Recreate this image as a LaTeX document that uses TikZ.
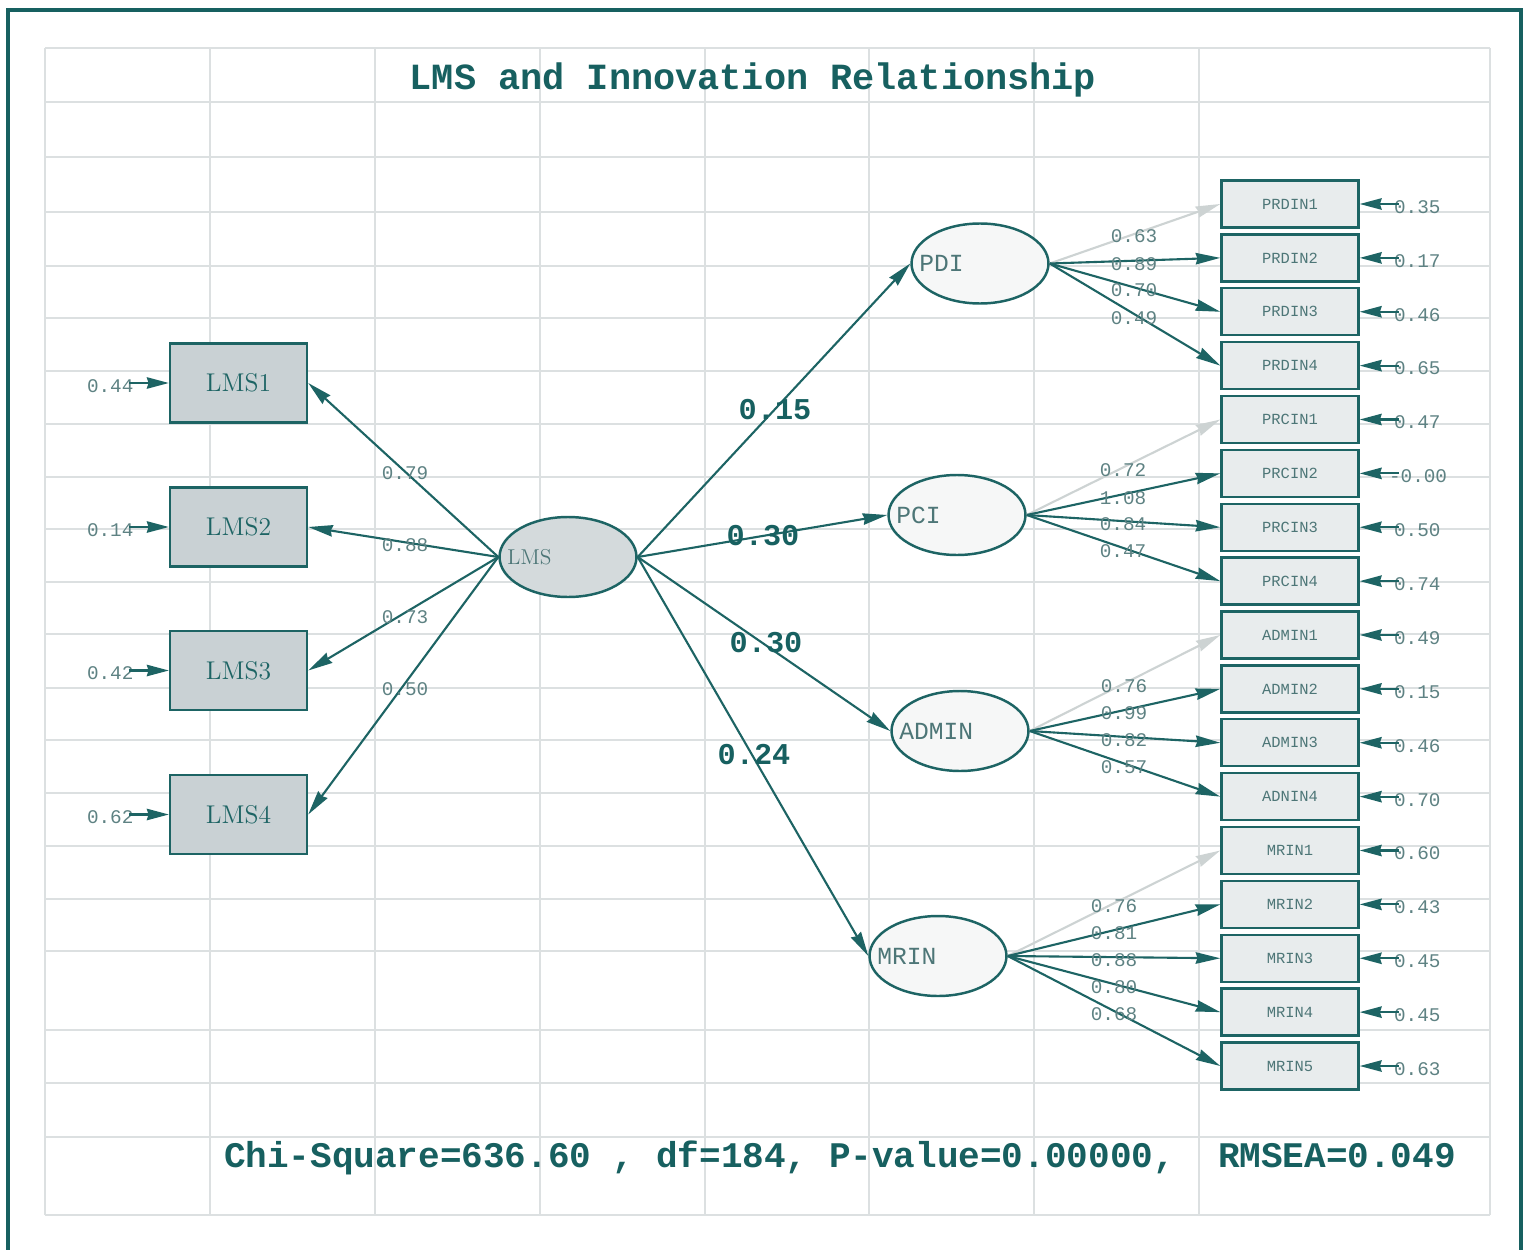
\documentclass[tikz,border=0pt]{standalone}
\usepackage{fontspec}
\newfontfamily\cour{Liberation Mono}
\usetikzlibrary{arrows.meta,shapes.geometric,calc}

\definecolor{tealf}{HTML}{176060}
\definecolor{tealb}{HTML}{1D6464}
\definecolor{gridc}{HTML}{DCE0E1}
\definecolor{boxf}{HTML}{E8ECED}
\definecolor{lmsf}{HTML}{C9D1D4}
\definecolor{lmsell}{HTML}{D4DADC}
\definecolor{latf}{HTML}{F6F7F7}
\definecolor{valc}{HTML}{5E8283}
\definecolor{indtext}{HTML}{4D7677}
\definecolor{fixc}{HTML}{CDD3D3}

\tikzset{
  gridline/.style={draw=gridc, line width=1.1pt},
  frameline/.style={draw=tealf, line width=2.8pt},
  lmsbox/.style={rectangle, draw=tealb, line width=1.4pt, fill=lmsf,
    minimum width=2.74cm, minimum height=1.58cm, inner sep=0pt,
    font=\fontsize{14.6}{16}\selectfont, text=tealb},
  obsbox/.style={rectangle, draw=tealb, line width=1.4pt, fill=boxf,
    minimum width=2.74cm, minimum height=0.94cm, inner sep=0pt,
    font=\cour\fontsize{8.8}{10}\selectfont, text=indtext},
  latent/.style={ellipse, draw=tealb, line width=1.4pt, fill=latf,
    minimum width=2.74cm, minimum height=1.6cm, inner sep=0pt},
  lmslatent/.style={latent, fill=lmsell},
  latlabel/.style={anchor=west, inner sep=0pt,
    font=\cour\fontsize{14}{16}\selectfont, text=indtext},
  lmslabel/.style={anchor=west, inner sep=0pt,
    font=\fontsize{12.2}{14}\selectfont, text=indtext},
  val/.style={inner sep=0pt, font=\cour\fontsize{11}{13}\selectfont, text=valc},
  coef/.style={inner sep=0pt, font=\cour\bfseries\fontsize{17.2}{19}\selectfont, text=tealf},
  headline/.style={inner sep=0pt, font=\cour\bfseries\fontsize{21}{24}\selectfont, text=tealf},
  fitline/.style={inner sep=0pt, font=\cour\bfseries\fontsize{20.5}{24}\selectfont, text=tealf},
  path/.style={draw=tealb, line width=1.2pt,
    -{Stealth[length=14pt,width=6.5pt,inset=1pt]}},
  fixedpath/.style={draw=fixc, line width=1.2pt,
    -{Stealth[length=14pt,width=6.5pt,inset=1pt]}},
  errpath/.style={draw=tealb, line width=1.2pt,
    -{Stealth[length=12.5pt,width=6.5pt,inset=1pt]}},
}

\begin{document}
\begin{tikzpicture}[x=0.02cm, y=-0.02cm]
\useasboundingbox (0,0) rectangle (1531,1250);
\clip (0,0) rectangle (1531,1250);
\fill[white] (0,0) rectangle (1531,1250);

% background table grid
\foreach \x in {45,210,375,540,705,869,1034,1199,1490}
  \draw[gridline] (\x,48) -- (\x,1215);
\foreach \y in {48,102,157,212,266,318,371,424,477,529,582,634,688,740,793,846,899,951,1030,1083,1137,1215}
  \draw[gridline] (45,\y) -- (1490,\y);

% outer frame
\draw[frameline] (8,1270) -- (8,10) -- (1521,10) -- (1521,1270);

% title
\node[headline] (title) at (753,80) {LMS and Innovation Relationship};

% exogenous construct and its indicators
\node[lmslatent] (lms) at (568,557) {};
\node[lmslabel] (lmsT) at ([xshift=5pt]lms.west) {LMS};

\node[lmsbox] (lms1) at (238.5,383) {LMS1};
\node[lmsbox] (lms2) at (238.5,527) {LMS2};
\node[lmsbox] (lms3) at (238.5,670.5) {LMS3};
\node[lmsbox] (lms4) at (238.5,814.5) {LMS4};

\foreach \b/\e in {lms1/0.44, lms2/0.14, lms3/0.42, lms4/0.62}{
  \node[val, anchor=east] (\b err) at ($(\b.west)+(-35,3)$) {\e};
  \draw[errpath] ($(\b.west)+(-40,0)$) -- (\b.west);
}

\draw[path] (lms.west) -- (lms1.east);
\draw[path] (lms.west) -- (lms2.east);
\draw[path] (lms.west) -- (lms3.east);
\draw[path] (lms.west) -- (lms4.east);
\node[val] (l1) at (405,473) {0.79};
\node[val] (l2) at (405,545) {0.88};
\node[val] (l3) at (405,617) {0.73};
\node[val] (l4) at (405,689) {0.50};

% endogenous constructs
\node[latent] (pdi) at (980,263.5) {};
\node[latent] (pci) at (957,515) {};
\node[latent] (adm) at (960,731) {};
\node[latent] (mrin) at (938,956) {};
\node[latlabel] (pdiT) at ([xshift=5pt]pdi.west) {PDI};
\node[latlabel] (pciT) at ([xshift=5pt]pci.west) {PCI};
\node[latlabel] (admT) at ([xshift=5pt]adm.west) {ADMIN};
\node[latlabel] (mrinT) at ([xshift=5pt]mrin.west) {MRIN};

\draw[path] (lms.east) -- (pdi.west);
\draw[path] (lms.east) -- (pci.west);
\draw[path] (lms.east) -- (adm.west);
\draw[path] (lms.east) -- (mrin.west);
\node[coef] (c1) at (775,410) {0.15};
\node[coef] (c2) at (763,536) {0.30};
\node[coef] (c3) at (766,643) {0.30};
\node[coef] (c4) at (754,755) {0.24};

% observed indicators with their error variances
\foreach \n/\t/\e/\dx [count=\k from 0] in {
  prd1/PRDIN1/0.35/34, prd2/PRDIN2/0.17/34, prd3/PRDIN3/0.46/34, prd4/PRDIN4/0.65/34,
  prc1/PRCIN1/0.47/34, prc2/PRCIN2/-0.00/29, prc3/PRCIN3/0.50/34, prc4/PRCIN4/0.74/34,
  adm1/ADMIN1/0.49/34, adm2/ADMIN2/0.15/34, adm3/ADMIN3/0.46/34, adm4/ADNIN4/0.70/34,
  mr1/MRIN1/0.60/34, mr2/MRIN2/0.43/34, mr3/MRIN3/0.45/34, mr4/MRIN4/0.45/34, mr5/MRIN5/0.63/34}{
  \node[obsbox] (\n) at (1290,{204+53.875*\k}) {\t};
  \node[val, anchor=west] (\n err) at ($(\n.east)+(\dx,3)$) {\e};
  \draw[errpath] ($(\n.east)+(39,0)$) -- (\n.east);
}

% loadings
\draw[fixedpath] (pdi.east) -- (prd1.west);
\draw[path] (pdi.east) -- (prd2.west);
\draw[path] (pdi.east) -- (prd3.west);
\draw[path] (pdi.east) -- (prd4.west);
\node[val] at (1134,236) {0.63};
\node[val] at (1134,264) {0.89};
\node[val] at (1134,290) {0.70};
\node[val] at (1134,318) {0.49};

\draw[fixedpath] (pci.east) -- (prc1.west);
\draw[path] (pci.east) -- (prc2.west);
\draw[path] (pci.east) -- (prc3.west);
\draw[path] (pci.east) -- (prc4.west);
\node[val] at (1123,470) {0.72};
\node[val] at (1123,498) {1.08};
\node[val] at (1123,524) {0.84};
\node[val] at (1123,551) {0.47};

\draw[fixedpath] (adm.east) -- (adm1.west);
\draw[path] (adm.east) -- (adm2.west);
\draw[path] (adm.east) -- (adm3.west);
\draw[path] (adm.east) -- (adm4.west);
\node[val] at (1124,686) {0.76};
\node[val] at (1124,713) {0.99};
\node[val] at (1124,740) {0.82};
\node[val] at (1124,767) {0.57};

\draw[fixedpath] (mrin.east) -- (mr1.west);
\draw[path] (mrin.east) -- (mr2.west);
\draw[path] (mrin.east) -- (mr3.west);
\draw[path] (mrin.east) -- (mr4.west);
\draw[path] (mrin.east) -- (mr5.west);
\node[val] at (1114,906) {0.76};
\node[val] at (1114,933) {0.81};
\node[val] at (1114,960) {0.88};
\node[val] at (1114,987) {0.80};
\node[val] at (1114,1014) {0.68};

% fit statistics
\node[fitline] (fit) at (840,1158) {Chi-Square=636.60 , df=184, P-value=0.00000,\ \ RMSEA=0.049};
\end{tikzpicture}
\end{document}
